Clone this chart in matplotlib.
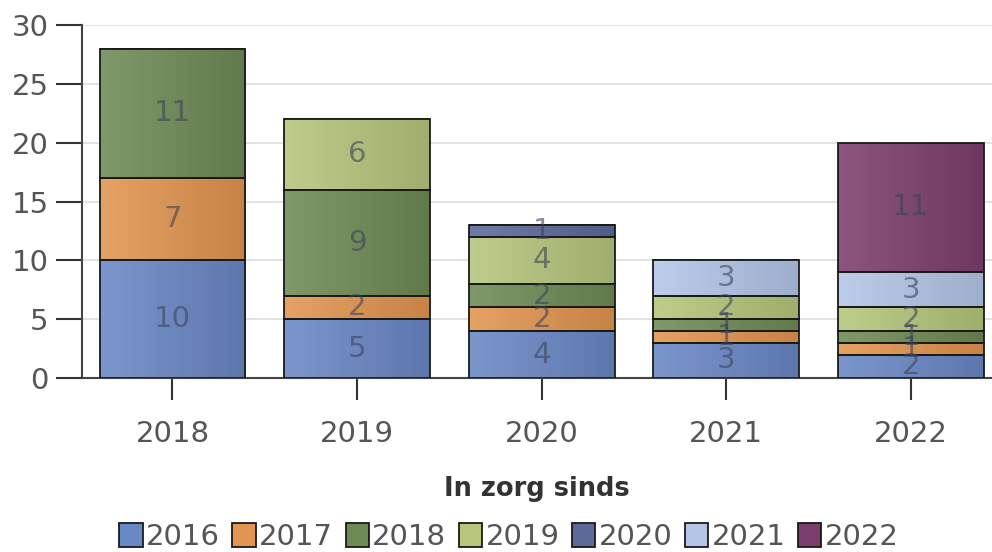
import numpy as np
import matplotlib
matplotlib.use("Agg")
import matplotlib.pyplot as plt
from matplotlib.colors import to_rgb

# In zorg sinds (x categories)
categories = ["2018", "2019", "2020", "2021", "2022"]
series_names = ["2016", "2017", "2018", "2019", "2020", "2021", "2022"]

s2016 = [10, 5, 4, 3, 2]
s2017 = [7, 2, 2, 1, 1]
s2018 = [11, 9, 2, 1, 1]
s2019 = [0, 6, 4, 2, 2]
s2020 = [0, 0, 1, 0, 0]
s2021 = [0, 0, 0, 3, 3]
s2022 = [0, 0, 0, 0, 11]
series = [s2016, s2017, s2018, s2019, s2020, s2021, s2022]

colors = ["#6a88c6", "#e29550", "#6f8b55", "#b6c67c", "#5c6a9a", "#b3c6e8", "#7c3f6d"]


def shade(c, f):
    r = np.array(to_rgb(c))
    if f >= 0:
        return r + (1 - r) * f
    return r * (1 + f)


def main():
    plt.rcParams["font.family"] = ["DejaVu Sans"]
    fig = plt.figure(figsize=(9.92, 5.52), dpi=100)
    ax = fig.add_axes([0.0827, 0.315, 0.9173, 0.6397])

    x = np.arange(len(categories))
    width = 0.79
    bottom = np.zeros(len(categories))
    handles = []
    for name, vals, col in zip(series_names, series, colors):
        vals = np.array(vals, dtype=float)
        bars = ax.bar(x, vals, width, bottom=bottom, color=col,
                      edgecolor="#1a1a1a", linewidth=1.3, zorder=3, label=name)
        handles.append(bars)
        grad = np.linspace(0, 1, 64)
        c1, c2 = shade(col, 0.12), shade(col, -0.12)
        img = (c1[None, :] * (1 - grad[:, None]) + c2[None, :] * grad[:, None])[None, :, :]
        for b, v in zip(bars, vals):
            if v <= 0:
                continue
            bx, by = b.get_x(), b.get_y()
            im = ax.imshow(img, extent=[bx, bx + b.get_width(), by, by + v],
                           aspect="auto", zorder=3.5, interpolation="bilinear")
            im.set_clip_path(b)
            b.set_facecolor("none")
            b.set_zorder(4)
            ax.text(bx + b.get_width() / 2, by + v / 2, f"{int(v)}",
                    ha="center", va="center", fontsize=21,
                    color="#3b4458", alpha=0.6, zorder=5)
        bottom += vals

    ax.set_xlim(-0.49, 4.44)
    ax.set_ylim(0, 30)
    ax.set_yticks(range(0, 31, 5))
    ax.set_xticks(x)
    ax.set_xticklabels(categories)
    ax.grid(axis="y", color="#dddddd", linewidth=1.2, zorder=0)
    ax.set_axisbelow(True)
    for s in ["top", "right"]:
        ax.spines[s].set_visible(False)
    for s in ["left", "bottom"]:
        ax.spines[s].set_color("#444444")
        ax.spines[s].set_linewidth(1.5)
    ax.tick_params(axis="y", length=19, width=1.5, color="#333333",
                   labelsize=21, labelcolor="#555555", pad=5)
    ax.tick_params(axis="x", length=16, width=1.5, color="#333333",
                   labelsize=21, labelcolor="#555555", pad=14)
    ax.set_xlabel("In zorg sinds", fontsize=18.5, fontweight="bold",
                  color="#333333", labelpad=20)

    leg = fig.legend(handles=handles, labels=series_names, loc="center",
                     bbox_to_anchor=(0.513, 0.027), ncol=7, frameon=False,
                     fontsize=21, handlelength=0.8, handleheight=0.9,
                     handletextpad=0.12, columnspacing=0.42, labelcolor="#555555")
    for h, col in zip(leg.legend_handles, colors):
        h.set_facecolor(col)
        h.set_edgecolor("#1a1a1a")

    fig.savefig("out.png", dpi=100)
    plt.close(fig)


if __name__ == "__main__":
    main()
